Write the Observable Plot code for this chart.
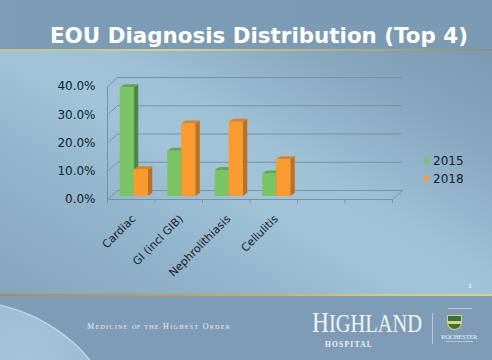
<!DOCTYPE html>
<html>
<head>
<meta charset="utf-8">
<script src="https://cdn.jsdelivr.net/npm/d3@7"></script>
<script src="https://cdn.jsdelivr.net/npm/@observablehq/plot@0.6"></script>
<style>
  html, body { margin: 0; padding: 0; }
  #slide { position: relative; width: 492px; height: 360px; overflow: hidden; background: #7d9cb4; font-family: "DejaVu Sans", Verdana, sans-serif; }
  #header { position: absolute; left: 0; top: 0; width: 492px; height: 50px; background: linear-gradient(90deg, #7d9db6, #7b9ab3); }
  #bodybg { position: absolute; left: 0; top: 51px; width: 492px; height: 244px;
    background: linear-gradient(30deg, #85a5bc 0%, #93b5cb 28%, #a1c4d9 47%, #9ec1d6 58%, #88a8bf 80%, #7c9ab2 100%); }
  #line1 { position: absolute; left: 0; top: 49px; width: 492px; height: 2px; background: linear-gradient(90deg, #c4c37f, #d3d28b 35%, #b3ae80 70%, #8c8e82); }
  #line2 { position: absolute; left: 0; top: 294px; width: 492px; height: 2px; background: linear-gradient(90deg, #a48e5c, #b9a46a 40%, #d2cd88 80%, #d8d48f); }
  #footer { position: absolute; left: 0; top: 296px; width: 492px; height: 64px; background: #7e9cb5; overflow: hidden; }
  #swoosh { position: absolute; left: -200px; top: 4px; width: 320px; height: 284px; border-radius: 50%;
    background: radial-gradient(ellipse at 70% 20%, rgba(180,214,232,0.7), rgba(165,200,222,0.45) 55%, rgba(150,185,208,0.2));
    box-shadow: inset -1px 1px 0 rgba(215,235,245,0.6); }
  #title { position: absolute; left: 50px; top: 24px; font-family: "DejaVu Sans", sans-serif; font-weight: bold; font-size: 20.5px; color: #ffffff; white-space: nowrap; line-height: normal; transform-origin: 0 50%; }
  #chart { position: absolute; left: 0; top: 0; }
  .leg { position: absolute; left: 424px; font-size: 12px; color: #13202d; white-space: nowrap; line-height: 14px; }
  .leg span.sw { display: inline-block; width: 5px; height: 5px; margin-right: 4px; vertical-align: 2px; }
  #motto { position: absolute; left: 87px; top: 322px; font-family: "Liberation Serif", serif; font-variant: small-caps; font-size: 8px; letter-spacing: 1.3px; color: #e8eef3; white-space: nowrap; }
  #motto i { text-transform: lowercase; letter-spacing: 0.5px; }
  #highland { position: absolute; left: 312px; top: 306px; font-family: "Liberation Serif", serif; font-size: 29px; color: #f2f5f8; white-space: nowrap; line-height: normal; transform-origin: 0 0; }
  #highland span { font-size: 0.87em; }
  #hospital { position: absolute; left: 325px; top: 338.5px; font-family: "Liberation Serif", serif; font-weight: bold; font-size: 8.5px; letter-spacing: 1.4px; color: #eef2f5; white-space: nowrap; line-height: normal; }
  #divider { position: absolute; left: 432px; top: 313px; width: 1px; height: 31px; background: rgba(230,238,244,0.55); }
  #shield { position: absolute; left: 447px; top: 315px; width: 15px; height: 15px; background: #3f6f3c; border: 1px solid #d9d47e; border-radius: 1px 1px 8px 8px; box-sizing: border-box; }
  #shield div { position: absolute; left: 0; top: 5px; width: 13px; height: 3px; background: #d9d47e; }
  #roch { position: absolute; left: 441px; top: 333px; font-family: "Liberation Serif", serif; font-size: 6.5px; color: #eef2f5; white-space: nowrap; letter-spacing: -0.2px; }
  #affil { position: absolute; left: 448px; top: 308px; width: 24px; height: 1px; background: rgba(235,240,245,0.6); }
  #sub { position: absolute; left: 446px; top: 341px; width: 27px; height: 1px; background: rgba(235,240,245,0.5); }
  #pnum { position: absolute; left: 468px; top: 282px; font-size: 6px; font-weight: bold; color: #e2eaf0; }
</style>
</head>
<body>
<div id="slide">
  <div id="header"></div>
  <div id="bodybg"></div>
  <div id="line1"></div>
  <div id="line2"></div>
  <div id="footer"><div id="swoosh"></div></div>
  <div id="title">EOU Diagnosis Distribution (Top 4)</div>
  <div id="chart"></div>
  <div id="legend"></div>
  <div id="pnum">1</div>
  <div id="motto">Medicine <i>of</i> the Highest Order</div>
  <div id="highland">H<span>IGHLAND</span></div>
  <div id="hospital">HOSPITAL</div>
  <div id="divider"></div>
  <div id="affil"></div>
  <div id="shield"><div></div></div>
  <div id="roch">ROCHESTER</div>
  <div id="sub"></div>
</div>
<script>
// ---- data ----
const categories = ["Cardiac", "GI (incl GIB)", "Nephrolithiasis", "Cellulitis"];
const series = ["2015", "2018"];
const values2015 = [38.5, 16.0, 9.2, 8.0];
const values2018 = [9.5, 25.7, 26.3, 13.0];
const yTicks = [0, 10, 20, 30, 40];
const slotCount = 6; // category slots on the axis (two empty)

// ---- styles / layout ----
const colors = {
  "2015": {front: "#7ac465", side: "#4b8a3c", top: "#5fa84b"},
  "2018": {front: "#fa9b2f", side: "#c26f19", top: "#dc8221"}
};
const W = 492, H = 360, ML = 107, MR = 100, MT = 86, MB = 161;
const PX_X = (W - ML - MR) / slotCount;
const PX_Y = (H - MT - MB) / 40;
const BACK = {dx: 10, dy: 9};          // back-wall offset in px
const BAR = {w: 0.295, dx: 3, dy: -3, depthX: 4.5, depthY: 3};
const gridColor = "#7b91a3";
const textColor = "#13202d";

const seriesValues = [values2015, values2018];
const bars = [];
categories.forEach((c, i) => {
  series.forEach((s, j) => {
    const v = seriesValues[j][i];
    const x1 = i + 0.5 - BAR.w + j * BAR.w;
    bars.push({id: c + s, cat: c, s, v, x1, x2: x1 + BAR.w});
  });
});
const ddx = BAR.depthX / PX_X, ddy = BAR.depthY / PX_Y;
const sides = bars.flatMap(b => [
  {id: b.id, s: b.s, x: b.x2, y1: 0, y2: b.v},
  {id: b.id, s: b.s, x: b.x2 + ddx, y1: ddy, y2: b.v + ddy}
]);
const tops = bars.flatMap(b => [
  {id: b.id, s: b.s, y: b.v, x1: b.x1, x2: b.x2},
  {id: b.id, s: b.s, y: b.v + ddy, x1: b.x1 + ddx, x2: b.x2 + ddx}
]);
const bdx = BACK.dx / PX_X, bdy = BACK.dy / PX_Y;

const chart = Plot.plot({
  width: W, height: H,
  marginLeft: ML, marginRight: MR, marginTop: MT, marginBottom: MB,
  style: {background: "transparent", fontFamily: "DejaVu Sans, Verdana, sans-serif", fontSize: "12px", color: textColor, overflow: "visible"},
  x: {domain: [0, slotCount], axis: null},
  y: {domain: [0, 40], ticks: yTicks, tickFormat: d => d.toFixed(1) + "%", tickSize: 0, tickPadding: 12, label: null},
  marks: [
    // back wall gridlines
    Plot.ruleY(yTicks, {x1: 0, x2: slotCount, dx: BACK.dx, dy: -BACK.dy, stroke: gridColor}),
    // left wall diagonals
    Plot.link(yTicks, {x1: 0, y1: d => d, x2: bdx, y2: d => d + bdy, stroke: gridColor}),
    // floor: front edge, right diagonal, axis line, ticks
    Plot.ruleY([0], {x1: 0, x2: slotCount, stroke: gridColor}),
    Plot.link([0], {x1: slotCount, y1: 0, x2: slotCount + bdx, y2: bdy, stroke: gridColor}),
    Plot.ruleX([0], {y1: 0, y2: 40, stroke: gridColor}),
    Plot.ruleX(d3.range(slotCount + 1), {y1: 0, y2: -4 / PX_Y, stroke: gridColor}),
    // 3D bars: sides, tops, fronts
    Plot.areaY(sides, {x: "x", y1: "y1", y2: "y2", z: "id", fill: d => colors[d.s].side, dx: BAR.dx, dy: BAR.dy}),
    Plot.areaX(tops, {y: "y", x1: "x1", x2: "x2", z: "id", fill: d => colors[d.s].top, dx: BAR.dx, dy: BAR.dy}),
    Plot.rect(bars, {x1: "x1", x2: "x2", y1: 0, y2: "v", fill: d => colors[d.s].front, dx: BAR.dx, dy: BAR.dy}),
    // category labels
    Plot.text(categories, {x: (d, i) => i + 0.5, y: 0, text: d => d, rotate: -45, textAnchor: "end", fontSize: 11, fill: textColor, dx: 2.5, dy: 17.5})
  ]
});
document.getElementById("chart").appendChild(chart);

// legend
const legend = document.getElementById("legend");
series.forEach((s, j) => {
  const el = document.createElement("div");
  el.className = "leg";
  el.style.top = (154 + j * 18) + "px";
  el.innerHTML = `<span class="sw" style="background:${colors[s].front}"></span>${s}`;
  legend.appendChild(el);
});

// fit text widths to the slide
function fitWidth(id, target) {
  const el = document.getElementById(id);
  const w = el.getBoundingClientRect().width;
  el.style.transform = `scaleX(${target / w})`;
  if (!el.style.transformOrigin) el.style.transformOrigin = "0 0";
}
fitWidth("title", 418);
fitWidth("highland", 110);
fitWidth("hospital", 48);
fitWidth("motto", 144);
</script>
</body>
</html>
